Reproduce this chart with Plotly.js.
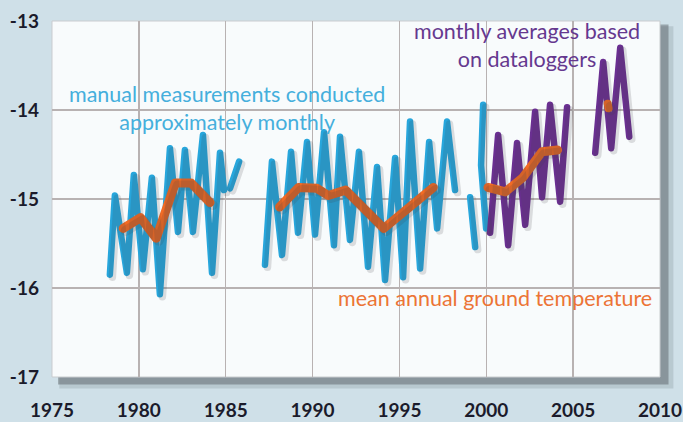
<!DOCTYPE html>
<html>
<head>
<meta charset="utf-8">
<script src="https://cdn.plot.ly/plotly-3.0.1.min.js"></script>
<style>
html,body{margin:0;padding:0;background:#cfe0e8;}
#chart{width:683px;height:422px;}
path.js-line{stroke-linejoin:round !important;stroke-linecap:round !important;}
</style>
</head>
<body>
<div id="chart"></div>
<script>
// Manual measurements (approximately monthly), split into segments with gaps
const manualYear1 = [1978.33,1978.62,1979.31,1979.71,1980.23,1980.75,1981.21,1981.79,1982.25,1982.65,1983.11,1983.69,1984.21,1984.67,1984.9];
const manualTemp1 = [-15.85,-14.96,-15.83,-14.73,-15.79,-14.76,-16.07,-14.43,-15.37,-14.45,-15.37,-14.28,-15.83,-14.48,-14.9];
const manualYear2 = [1985.25,1985.77];
const manualTemp2 = [-14.88,-14.58];
const manualYear3 = [1987.26,1987.66,1988.24,1988.76,1989.16,1989.68,1990.14,1990.66,1991.23,1991.58,1992.15,1992.67,1993.19,1993.71,1994.17,1994.75,1995.21,1995.61,1996.19,1996.71,1997.17,1997.74,1998.2];
const manualTemp3 = [-15.74,-14.58,-15.63,-14.47,-15.38,-14.36,-15.40,-14.25,-15.52,-14.30,-15.46,-14.47,-15.76,-14.64,-15.91,-14.54,-15.88,-14.13,-15.78,-14.36,-15.33,-14.13,-14.90];
const manualYear4 = [1999.07,1999.36];
const manualTemp4 = [-14.98,-15.54];
const manualYear5 = [1999.82,1999.70,1999.99];
const manualTemp5 = [-13.94,-14.62,-15.33];

// Monthly averages from dataloggers
const loggerYear1 = [2000.22,2000.68,2001.26,2001.77,2002.24,2002.81,2003.21,2003.67,2004.25,2004.65];
const loggerTemp1 = [-15.38,-14.28,-15.52,-14.37,-15.29,-14.02,-14.98,-13.94,-15.03,-13.97];
const loggerYear2 = [2006.27,2006.73,2007.19,2007.71,2008.23];
const loggerTemp2 = [-14.48,-13.46,-14.43,-13.30,-14.30];

// Mean annual ground temperature
const maYear1 = [1979.1,1980.1,1981.0,1982.1,1983.0,1984.1];
const maTemp1 = [-15.33,-15.21,-15.44,-14.82,-14.82,-15.04];
const maYear2 = [1988.1,1989.2,1990.25,1990.9,1991.9,1994.1,1996.95];
const maTemp2 = [-15.09,-14.87,-14.88,-14.96,-14.90,-15.33,-14.87];
const maYear3 = [2000.1,2001.1,2002.1,2003.2,2004.1];
const maTemp3 = [-14.87,-14.92,-14.76,-14.47,-14.45];
const maYear4 = [2006.99,2007.04];
const maTemp4 = [-13.93,-13.98];

const xTicks = [1975,1980,1985,1990,1995,2000,2005,2010];
const yTicks = [-17,-16,-15,-14,-13];

const BLUE = '#27a6dc', PURPLE = '#6a2f91', ORANGE = '#f26b24';
const SHADOW = 'rgba(60,60,70,0.16)';

const groups = [
  {x: manualYear1, y: manualTemp1, c: BLUE, w: 6.5},
  {x: manualYear2, y: manualTemp2, c: BLUE, w: 6.5},
  {x: manualYear3, y: manualTemp3, c: BLUE, w: 6.5},
  {x: manualYear4, y: manualTemp4, c: BLUE, w: 6.5},
  {x: manualYear5, y: manualTemp5, c: BLUE, w: 6.5},
  {x: loggerYear1, y: loggerTemp1, c: PURPLE, w: 6.5},
  {x: loggerYear2, y: loggerTemp2, c: PURPLE, w: 6.5},
  {x: maYear1, y: maTemp1, c: ORANGE, w: 9},
  {x: maYear2, y: maTemp2, c: ORANGE, w: 9},
  {x: maYear3, y: maTemp3, c: ORANGE, w: 9},
  {x: maYear4, y: maTemp4, c: ORANGE, w: 8}
];

const traces = [];
// soft shadows drawn on overlay axes that are shifted slightly
groups.forEach(g => traces.push({x: g.x, y: g.y, xaxis: 'x2', yaxis: 'y2', type: 'scatter', mode: 'lines',
  line: {color: SHADOW, width: g.w + 1}, hoverinfo: 'skip', showlegend: false}));
groups.forEach(g => traces.push({x: g.x, y: g.y, type: 'scatter', mode: 'lines',
  line: {color: g.c, width: g.w}, showlegend: false}));

const xr = [1975, 2010], yr = [-17, -13];
const pxX = 608 / 35, pxY = 356 / 4;
const tickFont = {family: 'Lato, "Open Sans", sans-serif', size: 19, color: '#1b1b2b', weight: 'bold'};
const textFont = {family: 'Lato, "Open Sans", sans-serif', size: 21.5};

const layout = {
  width: 683, height: 422,
  margin: {l: 52, r: 23, t: 21, b: 45},
  paper_bgcolor: '#cfe0e8',
  plot_bgcolor: 'rgba(0,0,0,0)',
  showlegend: false,
  xaxis: {range: xr, tickvals: xTicks, ticktext: xTicks.map(String), showgrid: true,
    gridcolor: '#b8b2b2', gridwidth: 1.5, zeroline: false, showline: false, ticks: '',
    tickfont: tickFont, ticklabelstandoff: 20, fixedrange: true},
  yaxis: {range: yr, tickvals: yTicks, ticktext: yTicks.map(String), showgrid: true,
    gridcolor: '#b8b2b2', gridwidth: 1.5, zeroline: false, showline: false, ticks: '',
    tickfont: tickFont, ticklabelstandoff: 12, fixedrange: true},
  xaxis2: {overlaying: 'x', range: [xr[0] - 2.5 / pxX, xr[1] - 2.5 / pxX], visible: false, fixedrange: true},
  yaxis2: {overlaying: 'y', range: [yr[0] + 2.5 / pxY, yr[1] + 2.5 / pxY], visible: false, fixedrange: true},
  shapes: [
    {type: 'rect', xref: 'paper', yref: 'paper', x0: 0.012, x1: 1.022, y0: -0.032, y1: 0.985, layer: 'below',
      fillcolor: 'rgba(70,80,85,0.16)', line: {width: 0}},
    {type: 'rect', xref: 'paper', yref: 'paper', x0: 0.01, x1: 1.014, y0: -0.021, y1: 0.99, layer: 'below',
      fillcolor: 'rgba(60,65,70,0.38)', line: {width: 0}},
    {type: 'rect', xref: 'paper', yref: 'paper', x0: 0, x1: 1, y0: 0, y1: 1, layer: 'below',
      fillcolor: '#f8fbfc', line: {color: '#c9cccf', width: 1}}
  ],
  annotations: [
    {x: 1985.1, y: -13.98, xref: 'x', yref: 'y', showarrow: false, align: 'center',
      text: 'manual measurements conducted<br>approximately monthly',
      font: Object.assign({}, textFont, {color: '#45afdc'})},
    {x: 2002.35, y: -13.27, xref: 'x', yref: 'y', showarrow: false, align: 'center',
      text: 'monthly averages based<br>on dataloggers',
      font: Object.assign({}, textFont, {color: '#65388f', size: 21.5})},
    {x: 2000.5, y: -16.11, xref: 'x', yref: 'y', showarrow: false, align: 'center',
      text: 'mean annual ground temperature',
      font: Object.assign({}, textFont, {color: '#ec7435'})}
  ]
};

Plotly.newPlot('chart', traces, layout, {displayModeBar: false, staticPlot: true});
</script>
</body>
</html>
